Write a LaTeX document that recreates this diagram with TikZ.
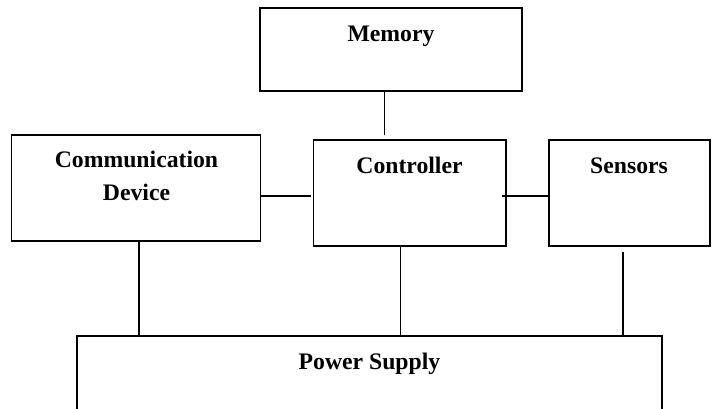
\documentclass[tikz,border=0pt]{standalone}
\usepackage{fontspec}
\setmainfont{Liberation Serif}
\begin{document}
\begin{tikzpicture}[x=1pt,y=-1pt,
  box/.style={draw,line width=1.8pt,rectangle,inner sep=0pt},
  lbl/.style={font=\bfseries\fontsize{23.7}{32.7}\selectfont,inner sep=0pt,anchor=base,align=center},
  wire/.style={line width=1.4pt}]
\useasboundingbox (0,0) rectangle (712,409);
\clip (0,0) rectangle (712,409);
\node[box,minimum width=262pt,minimum height=83pt] (mem) at (391,49.5) {};
\node[box,minimum width=249pt,minimum height=106pt] (comm) at (136,187.7) {};
\node[box,minimum width=192.5pt,minimum height=106.3pt] (ctrl) at (409.7,192.8) {};
\node[box,minimum width=161pt,minimum height=106.3pt] (sens) at (629.5,192.8) {};
\node[box,minimum width=585pt,minimum height=90pt] (power) at (369.8,381) {};
\node[lbl] (memT) at (391,41.7) {Memory};
\node[lbl] (commT) at (136.5,200) {Communication\\Device};
\node[lbl] (ctrlT) at (409.5,173.3) {Controller};
\node[lbl] (sensT) at (629,173.3) {Sensors};
\node[lbl] (powerT) at (369.5,369.3) {Power Supply};
\coordinate (m1) at (384.4,135);
\coordinate (c1) at (311,196);
\coordinate (s1) at (502,196);
\coordinate (p1) at (138.8,336);
\coordinate (p2) at (400.4,336);
\coordinate (p3) at (622.8,252);
\draw[wire] (mem.south -| m1) -- (m1);
\draw[wire] (comm.east |- c1) -- (c1);
\draw[wire] (s1) -- (sens.west |- s1);
\draw[wire] (comm.south -| p1) -- (p1);
\draw[wire] (ctrl.south -| p2) -- (p2);
\draw[wire] (p3) -- (p3 |- power.north);
\end{tikzpicture}
\end{document}
